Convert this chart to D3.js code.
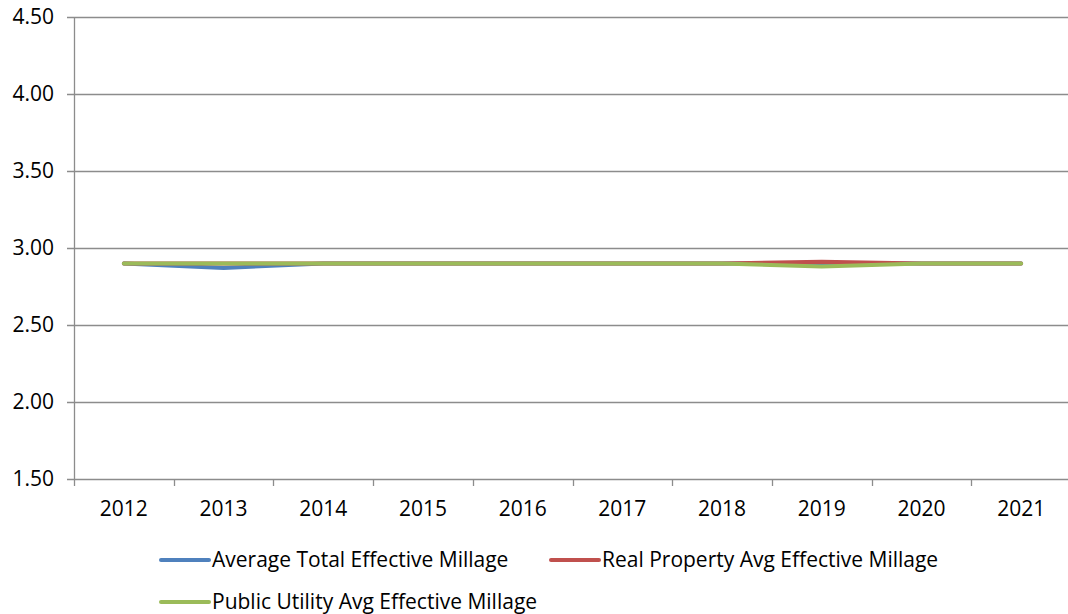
<!DOCTYPE html>
<html>
<head>
<meta charset="utf-8">
<script src="https://cdn.jsdelivr.net/npm/d3@7"></script>
<style>
  body { margin: 0; background: #fff; }
  text { font-family: "Open Sans", sans-serif; fill: #000; }
</style>
</head>
<body>
<div id="chart-area"></div>
<script>
let width = 1068,
height = 614;

// chart values
let years = ["2012", "2013", "2014", "2015", "2016", "2017", "2018", "2019", "2020", "2021"];
let avgTotal = [2.90, 2.87, 2.90, 2.90, 2.90, 2.90, 2.90, 2.90, 2.90, 2.90];
let realProperty = [2.90, 2.90, 2.90, 2.90, 2.90, 2.90, 2.90, 2.91, 2.90, 2.90];
let publicUtility = [2.90, 2.90, 2.90, 2.90, 2.90, 2.90, 2.90, 2.88, 2.90, 2.90];
let yTicks = [1.5, 2.0, 2.5, 3.0, 3.5, 4.0, 4.5];
let seriesNames = ["Average Total Effective Millage", "Real Property Avg Effective Millage", "Public Utility Avg Effective Millage"];
let colors = ["#4F81BD", "#C0504D", "#9BBB59"];

let series = [avgTotal, realProperty, publicUtility];

let margin = {left: 74, top: 17, right: -3, bottom: 135};

let svg = d3.select("#chart-area").append("svg")
    .attr("width", width)
    .attr("height", height);

let x = d3.scaleBand()
    .domain(years)
    .range([margin.left, width - margin.right]);

let y = d3.scaleLinear()
    .domain([1.5, 4.5])
    .range([height - margin.bottom, margin.top]);

// gridlines
svg.selectAll(".grid")
    .data(yTicks)
    .enter()
    .append("line")
    .attr("x1", margin.left - 7)
    .attr("x2", width - margin.right)
    .attr("y1", d => Math.round(y(d)) + 0.5)
    .attr("y2", d => Math.round(y(d)) + 0.5)
    .attr("stroke", "#8c8c8c")
    .attr("stroke-width", 1.3);

// y axis line
svg.append("line")
    .attr("x1", margin.left + 0.5)
    .attr("x2", margin.left + 0.5)
    .attr("y1", y(4.5))
    .attr("y2", y(1.5))
    .attr("stroke", "#8c8c8c")
    .attr("stroke-width", 1.3);

// x tick marks (between categories)
let tickPos = years.map(d => x(d)).concat([x(years[years.length - 1]) + x.bandwidth()]);
svg.selectAll(".xtick")
    .data(tickPos)
    .enter()
    .append("line")
    .attr("x1", d => Math.round(d) + 0.5)
    .attr("x2", d => Math.round(d) + 0.5)
    .attr("y1", y(1.5))
    .attr("y2", y(1.5) + 7)
    .attr("stroke", "#8c8c8c")
    .attr("stroke-width", 1.3);

// y labels
svg.selectAll(".ylab")
    .data(yTicks)
    .enter()
    .append("text")
    .attr("x", 54)
    .attr("y", d => y(d))
    .attr("dy", "0.35em")
    .attr("text-anchor", "end")
    .style("font-size", "21px")
    .text(d => d.toFixed(2));

// x labels
svg.selectAll(".xlab")
    .data(years)
    .enter()
    .append("text")
    .attr("x", d => x(d) + x.bandwidth() / 2)
    .attr("y", y(1.5) + 30)
    .attr("dy", "0.35em")
    .attr("text-anchor", "middle")
    .style("font-size", "21px")
    .text(d => d);

// lines
let line = d3.line()
    .x((d, i) => x(years[i]) + x.bandwidth() / 2)
    .y(d => y(d));

svg.selectAll(".series")
    .data(series)
    .enter()
    .append("path")
    .attr("d", d => line(d))
    .attr("fill", "none")
    .attr("stroke", (d, i) => colors[i])
    .attr("stroke-width", 4)
    .attr("stroke-linejoin", "round")
    .attr("stroke-linecap", "round");

// legend
let legendPos = [[161, 560], [551, 560], [161, 602]];
let legend = svg.selectAll(".legend")
    .data(seriesNames)
    .enter()
    .append("g")
    .attr("transform", (d, i) => "translate(" + legendPos[i][0] + "," + legendPos[i][1] + ")");

legend.append("line")
    .attr("x1", 0)
    .attr("x2", 48)
    .attr("stroke", (d, i) => colors[i])
    .attr("stroke-width", 4)
    .attr("stroke-linecap", "round");

legend.append("text")
    .attr("x", 51)
    .attr("dy", "0.35em")
    .style("font-size", "21px")
    .text(d => d);
</script>
</body>
</html>
